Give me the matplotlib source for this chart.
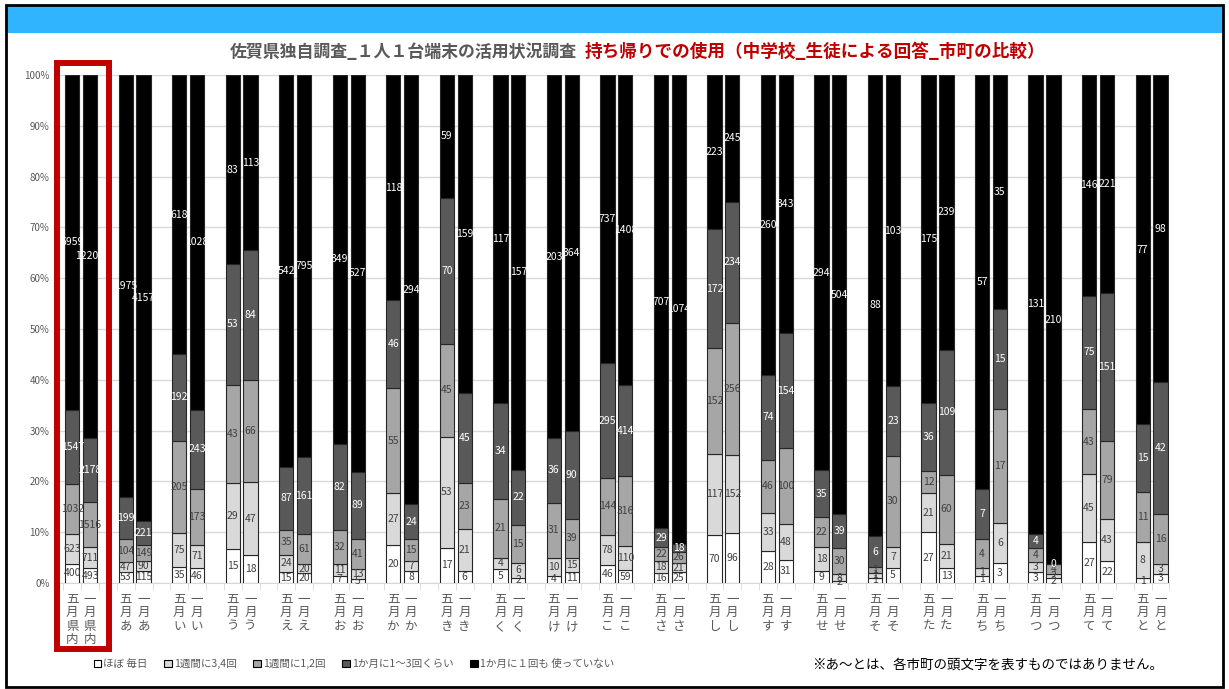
import numpy as np
import matplotlib.pyplot as plt
from matplotlib.patches import Rectangle
from matplotlib.ticker import PercentFormatter, FixedLocator

plt.rcParams['font.family'] = ['Noto Sans CJK JP', 'DejaVu Sans']

# data (counts per answer, 五月 / 一月 for each area)
areas = ['県内', 'あ', 'い', 'う', 'え', 'お', 'か', 'き', 'く', 'け', 'こ',
         'さ', 'し', 'す', 'せ', 'そ', 'た', 'ち', 'つ', 'て', 'と']
series_names = ['ほぼ 毎日', '1週間に3,4回', '1週間に1,2回',
                '1か月に1～3回くらい', '1か月に１回も 使っていない']

may_daily = [400, 53, 35, 15, 15, 7, 20, 17, 5, 4, 46, 16, 70, 28, 9, 1, 27, 1, 3, 27, 1]
may_34 = [623, 47, 75, 29, 24, 11, 27, 53, 4, 10, 78, 18, 117, 33, 18, 1, 21, 1, 3, 45, 8]
may_12 = [1032, 104, 205, 43, 35, 32, 55, 45, 21, 31, 144, 22, 152, 46, 22, 1, 12, 4, 4, 43, 11]
may_month = [1547, 199, 192, 53, 87, 82, 46, 70, 34, 36, 295, 29, 172, 74, 35, 6, 36, 7, 4, 75, 15]
may_none = [6959, 1975, 618, 83, 542, 349, 118, 59, 117, 203, 737, 707, 223, 260, 294, 88, 175, 57, 131, 146, 77]

jan_daily = [493, 115, 46, 18, 20, 5, 8, 6, 2, 11, 59, 25, 96, 31, 2, 5, 13, 3, 2, 22, 3]
jan_34 = [711, 90, 71, 47, 20, 13, 7, 21, 6, 15, 110, 21, 152, 48, 8, 7, 21, 6, 2, 43, 3]
jan_12 = [1516, 149, 173, 66, 61, 41, 15, 23, 15, 39, 316, 26, 256, 100, 30, 30, 60, 17, 4, 79, 16]
jan_month = [2178, 221, 243, 84, 161, 89, 24, 45, 22, 90, 414, 18, 234, 154, 39, 23, 109, 15, 0, 151, 42]
jan_none = [12207, 4157, 1028, 113, 795, 527, 294, 159, 157, 364, 1408, 1074, 245, 343, 504, 103, 239, 35, 210, 221, 98]

seg_colors = ['#FFFFFF', '#D9D9D9', '#A6A6A6', '#595959', '#000000']
txt_colors = ['#404040', '#404040', '#404040', '#FFFFFF', '#FFFFFF']

W, H = 1229, 689
fig = plt.figure(figsize=(W / 100, H / 100), dpi=100)

# frame + blue header band
fig.patches.append(Rectangle((6 / W, 1 - 33 / H), 1217 / W, 27 / H, transform=fig.transFigure,
                             facecolor='#31B4FE', edgecolor='none', zorder=0))
fig.patches.append(Rectangle((6 / W, 2 / H), 1217 / W, 1 - 7 / H, transform=fig.transFigure,
                             facecolor='none', edgecolor='black', lw=2, zorder=5))

ax = fig.add_axes([55 / W, 1 - 583 / H, 1114.4 / W, 508 / H])

# 3 slots per area: 五月, 一月, gap
x_may = np.arange(len(areas)) * 3
x_jan = x_may + 1
xs = np.concatenate([x_may, x_jan])

may = np.array([may_daily, may_34, may_12, may_month, may_none], dtype=float)
jan = np.array([jan_daily, jan_34, jan_12, jan_month, jan_none], dtype=float)
vals = np.concatenate([may, jan], axis=1)
pct = vals / vals.sum(axis=0) * 100

bottom = np.zeros(vals.shape[1])
for k in range(5):
    bars = ax.bar(xs, pct[k], 0.8, bottom=bottom, color=seg_colors[k],
                  edgecolor='#262626', linewidth=0.8, zorder=3, label=series_names[k])
    ax.bar_label(bars, labels=[str(int(v)) for v in vals[k]], label_type='center',
                 color=txt_colors[k], fontsize=7.5, zorder=4)
    bottom += pct[k]

ax.set_xlim(-0.966, 61.5)
ax.set_ylim(0, 100)
ax.yaxis.set_major_locator(FixedLocator(np.arange(0, 101, 10)))
ax.yaxis.set_major_formatter(PercentFormatter(decimals=0))
ax.tick_params(axis='y', length=0, labelsize=7, labelcolor='#595959', pad=4)
ax.grid(axis='y', color='#D9D9D9', lw=1, zorder=0)
for s in ['top', 'right', 'left']:
    ax.spines[s].set_visible(False)
ax.spines['bottom'].set_color('#D9D9D9')

tick_pos = list(x_may) + list(x_jan)
tick_lab = ['五\n月\n' + '\n'.join(a) for a in areas] + ['一\n月\n' + '\n'.join(a) for a in areas]
ax.set_xticks(tick_pos)
ax.set_xticklabels(tick_lab, fontsize=9, color='#595959', linespacing=1.05, va='top')
ax.tick_params(axis='x', length=0, pad=7)
ax.set_xticks(np.arange(-0.5, 62, 1), minor=True)
ax.tick_params(axis='x', which='minor', length=5, color='#D9D9D9')

# title in two colours
fig.text(577 / W, 1 - 52 / H, '佐賀県独自調査_１人１台端末の活用状況調査', ha='right', va='center',
         fontsize=12.2, fontweight='bold', color='#595959')
fig.text(585 / W, 1 - 52 / H, '持ち帰りでの使用（中学校_生徒による回答_市町の比較）', ha='left', va='center',
         fontsize=12.7, fontweight='bold', color='#C00000')

# red highlight box around 県内
fig.patches.append(Rectangle((57 / W, 1 - 648.5 / H), 52 / W, 586 / H, transform=fig.transFigure,
                             facecolor='none', edgecolor='#C00000', lw=4.3, zorder=6))

handles = [Rectangle((0, 0), 1, 1, facecolor=c, edgecolor='black', lw=0.8) for c in seg_colors]
leg = fig.legend(handles, series_names, loc='center left', bbox_to_anchor=(84 / W, 1 - 664 / H),
                 ncol=5, frameon=False, fontsize=7.6, handlelength=0.7, handleheight=0.7,
                 handletextpad=0.2, columnspacing=1.6)
for t in leg.get_texts():
    t.set_color('#595959')

fig.text(812 / W, 1 - 665 / H, '※あ～とは、各市町の頭文字を表すものではありません。',
         ha='left', va='center', fontsize=9.7, color='black')

fig.savefig('out.png', dpi=100)
